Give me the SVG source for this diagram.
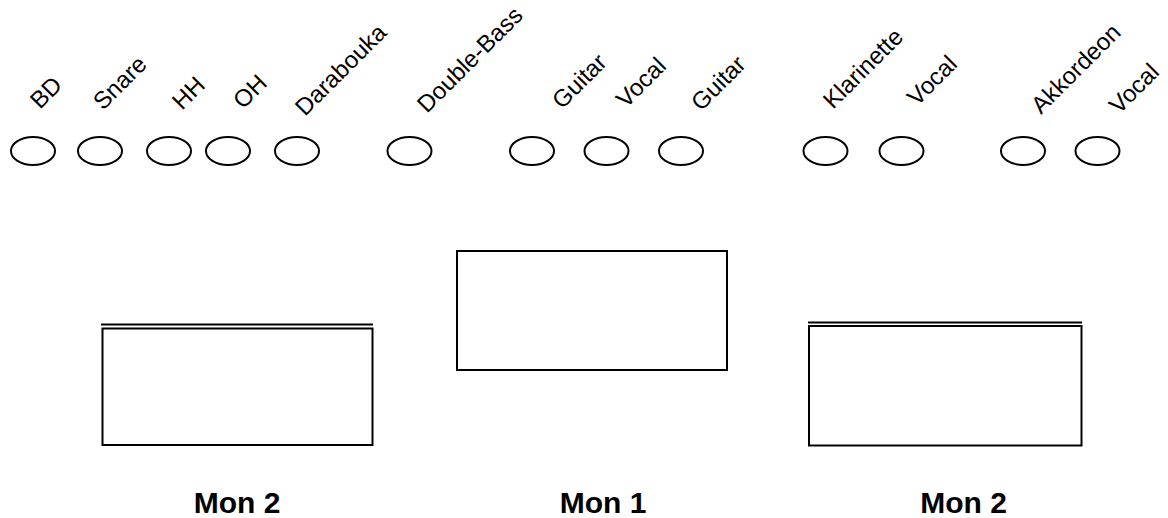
<svg xmlns="http://www.w3.org/2000/svg" width="1168" height="518" viewBox="0 0 1168 518">
<style>
.bg{fill:#ffffff}
.mic{fill:#ffffff;stroke:#000000;stroke-width:2}
.lbl{font-family:"Liberation Sans",Arial,sans-serif;font-size:24px;fill:#000000}
.mon{fill:#ffffff;stroke:#000000;stroke-width:2}
.edge{stroke:#000000;stroke-width:2;fill:none}
.title{font-family:"Liberation Sans",Arial,sans-serif;font-size:30px;font-weight:bold;fill:#000000;text-anchor:middle}
</style>
<rect class="bg" x="0" y="0" width="1168" height="518"/>
<g id="mic-bd"><ellipse class="mic" cx="33" cy="151" rx="22" ry="14"/><text class="lbl" transform="translate(40,110) rotate(-45)">BD</text></g>
<g id="mic-snare"><ellipse class="mic" cx="100" cy="151" rx="22" ry="14"/><text class="lbl" transform="translate(103,111) rotate(-45)">Snare</text></g>
<g id="mic-hh"><ellipse class="mic" cx="169" cy="151" rx="22" ry="14"/><text class="lbl" transform="translate(182,111) rotate(-45)">HH</text></g>
<g id="mic-oh"><ellipse class="mic" cx="228" cy="151" rx="22" ry="14"/><text class="lbl" transform="translate(243,110) rotate(-45)">OH</text></g>
<g id="mic-darabouka"><ellipse class="mic" cx="297" cy="151" rx="22" ry="14"/><text class="lbl" transform="translate(305,117) rotate(-45)">Darabouka</text></g>
<g id="mic-doublebass"><ellipse class="mic" cx="409.5" cy="151" rx="22" ry="14"/><text class="lbl" transform="translate(427,114) rotate(-45)">Double-Bass</text></g>
<g id="mic-guitar1"><ellipse class="mic" cx="532" cy="151" rx="22" ry="14"/><text class="lbl" transform="translate(562,110) rotate(-45)">Guitar</text></g>
<g id="mic-vocal1"><ellipse class="mic" cx="606.5" cy="151" rx="22" ry="14"/><text class="lbl" transform="translate(626,109) rotate(-45)">Vocal</text></g>
<g id="mic-guitar2"><ellipse class="mic" cx="681" cy="151" rx="22" ry="14"/><text class="lbl" transform="translate(701,112) rotate(-45)">Guitar</text></g>
<g id="mic-klarinette"><ellipse class="mic" cx="825.5" cy="151" rx="22" ry="14"/><text class="lbl" transform="translate(833,110) rotate(-45)">Klarinette</text></g>
<g id="mic-vocal2"><ellipse class="mic" cx="901.5" cy="151" rx="22" ry="14"/><text class="lbl" transform="translate(917,107) rotate(-45)">Vocal</text></g>
<g id="mic-akkordeon"><ellipse class="mic" cx="1023" cy="151" rx="22" ry="14"/><text class="lbl" transform="translate(1041,115) rotate(-45)">Akkordeon</text></g>
<g id="mic-vocal3"><ellipse class="mic" cx="1097.5" cy="151" rx="22" ry="14"/><text class="lbl" transform="translate(1119,115) rotate(-45)">Vocal</text></g>
<g id="mon2-left"><line class="edge" x1="101" y1="324.5" x2="373" y2="324.5"/><rect class="mon" x="102.5" y="328.5" width="270" height="116.5"/><text class="title" x="237" y="513">Mon 2</text></g>
<g id="mon1"><rect class="mon" x="457" y="251" width="270" height="119"/><text class="title" x="603" y="513">Mon 1</text></g>
<g id="mon2-right"><line class="edge" x1="808" y1="322.5" x2="1082" y2="322.5"/><rect class="mon" x="809" y="326" width="272.5" height="119.5"/><text class="title" x="963.5" y="513">Mon 2</text></g>
<g id="connectors"></g>
</svg>
